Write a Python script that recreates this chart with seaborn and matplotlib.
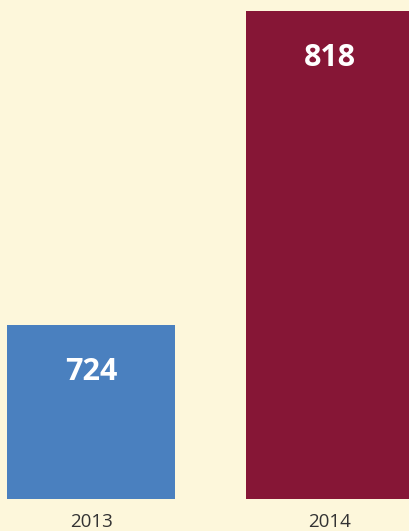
import matplotlib
matplotlib.use("Agg")
import matplotlib.pyplot as plt
import seaborn as sns
import pandas as pd

years = ["2013", "2014"]
values = [724, 818]
colors = ["#4A80BF", "#861636"]

df = pd.DataFrame({"year": years, "value": values})

sns.set_style("white")
plt.rcParams["font.family"] = ["Open Sans", "DejaVu Sans"]

bg = "#FDF7DB"
fig = plt.figure(figsize=(4.09, 5.31), dpi=100, facecolor=bg)
ax = fig.add_axes([0, 0.0608, 1, 0.9392])
ax.set_facecolor(bg)

sns.barplot(data=df, x="year", y="value", hue="year", palette=colors,
            width=0.703, legend=False, ax=ax, saturation=1, linewidth=0,
            edgecolor="none")

ax.set_ylim(672, 821.3)
ax.set_xlim(-0.381, 1.331)

for i, v in enumerate(values):
    ax.annotate(str(v), xy=(i, v), xytext=(0, -34), textcoords="offset points",
                ha="center", va="center", color="white", fontsize=22,
                fontweight="bold")

for s in ax.spines.values():
    s.set_visible(False)
ax.set_yticks([])
ax.set_xlabel("")
ax.set_ylabel("")
ax.tick_params(axis="x", length=0, pad=10, labelsize=13.5, labelcolor="#333333")

fig.savefig("out.png", dpi=100, facecolor=bg)
